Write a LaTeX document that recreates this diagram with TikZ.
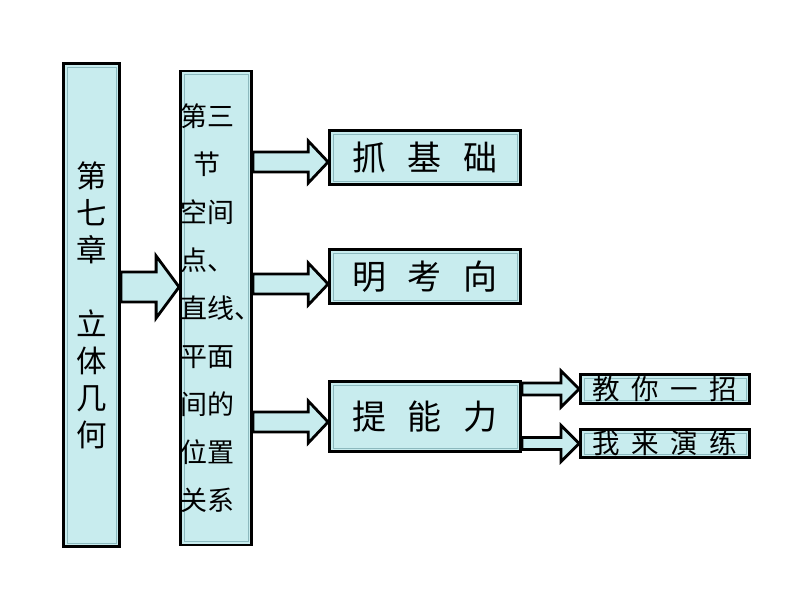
\documentclass[tikz,border=0pt]{standalone}
\usepackage{fontspec}
\setmainfont{Noto Sans CJK SC}
\usetikzlibrary{calc}
\definecolor{boxfill}{RGB}{200,236,238}
\definecolor{bevel}{RGB}{140,185,190}
\tikzstyle{box} = [rectangle, draw=black, line width=2.4pt, fill=boxfill, inner sep=0pt, align=center, path picture={\draw[bevel, line width=0.6pt] ([shift={(3pt,-3pt)}]path picture bounding box.north west) rectangle ([shift={(-3pt,3pt)}]path picture bounding box.south east);}]
\tikzset{fatarrow/.style n args={3}{draw=black, line width=2.4pt, fill=boxfill,
    to path={let \p1=(\tikztostart), \p2=(\tikztotarget) in
      (\x1,\y1+#1) -- (\x2-#3,\y1+#1) -- (\x2-#3,\y1+#2) -- (\x2,\y1)
      -- (\x2-#3,\y1-#2) -- (\x2-#3,\y1-#1) -- (\x1,\y1-#1) -- cycle}}}

\begin{document}
\begin{tikzpicture}[x=0.3mm, y=-0.3mm]
        \useasboundingbox (0,0) rectangle (800,600);
        \node (chapter) [box, minimum width=56*0.3mm, minimum height=483*0.3mm, text width=40*0.3mm, font=\fontsize{26}{31.6}\selectfont] at (91.5,305) {第\\七\\章\\\mbox{}\\立\\体\\几\\何};
        \node (section) [box, minimum width=71*0.3mm, minimum height=474*0.3mm, text width=71*0.3mm, align=left, font=\fontsize{23}{41}\selectfont] at (216,308) {第三\\\makebox[2em]{节}\\空间\\点、\\直线、\\平面\\间的\\位置\\关系};
        \node (base) [box, minimum width=191*0.3mm, minimum height=54*0.3mm, font=\fontsize{29}{34}\selectfont] at (425,157.5) {抓\hspace{0.62em}基\hspace{0.62em}础};
        \node (exam) [box, minimum width=191*0.3mm, minimum height=54*0.3mm, font=\fontsize{29}{34}\selectfont] at (425,276.5) {明\hspace{0.62em}考\hspace{0.62em}向};
        \node (ability) [box, minimum width=191*0.3mm, minimum height=70*0.3mm, font=\fontsize{29}{34}\selectfont] at (425,416.5) {提\hspace{0.62em}能\hspace{0.62em}力};
        \node (trick) [box, minimum width=169*0.3mm, minimum height=29*0.3mm, font=\fontsize{23.5}{27}\selectfont] at (665,389) {教\hspace{0.42em}你\hspace{0.42em}一\hspace{0.42em}招};
        \node (practice) [box, minimum width=169*0.3mm, minimum height=28*0.3mm, font=\fontsize{23.5}{27}\selectfont] at (665,443.5) {我\hspace{0.42em}来\hspace{0.42em}演\hspace{0.42em}练};

        \draw [fatarrow={12.8pt}{26.5pt}{19.6pt}] (chapter.east |- 0,287) to (section.west);
        \draw [fatarrow={8.5pt}{18pt}{17pt}] (section.east |- 0,162) to (base.west);
        \draw [fatarrow={8.5pt}{18pt}{17pt}] (section.east |- 0,284) to (exam.west);
        \draw [fatarrow={8.5pt}{18pt}{17pt}] (section.east |- 0,422) to (ability.west);
        \draw [fatarrow={5.1pt}{15.4pt}{15.4pt}] (ability.east |- trick.west) to (trick.west);
        \draw [fatarrow={5.1pt}{15.4pt}{15.4pt}] (ability.east |- practice.west) to (practice.west);
\end{tikzpicture}
\end{document}
